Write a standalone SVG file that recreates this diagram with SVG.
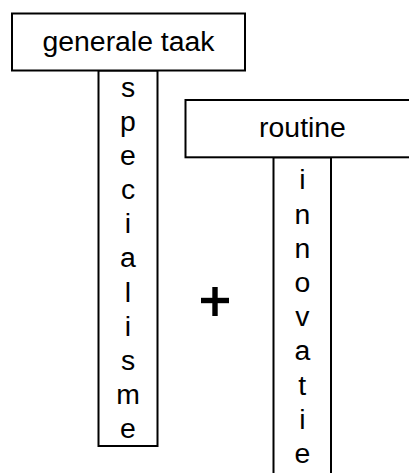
<svg xmlns="http://www.w3.org/2000/svg" width="409" height="473" viewBox="0 0 409 473">
  <style>
    .box { fill: #ffffff; stroke: #000000; stroke-width: 2; }
    .lbl { font-family: "Liberation Sans", Arial, sans-serif; font-size: 28.4px; fill: #000000; text-anchor: middle; }
    .plus { stroke: #000000; stroke-width: 5.4; fill: none; }
  </style>
  <rect x="0" y="0" width="409" height="473" fill="#ffffff"/>

  <!-- first T: generale taak / specialisme -->
  <g id="generale-taak">
    <rect class="box" x="98.5" y="70.5" width="59" height="375.5"/>
    <rect class="box" x="12" y="13.5" width="233" height="57"/>
    <text class="lbl" x="128.5" y="51">generale taak</text>
    <text class="lbl" x="128" y="96.7">
      <tspan x="128">s</tspan><tspan x="128" dy="34.15">p</tspan><tspan x="128" dy="34.15">e</tspan><tspan x="128" dy="34.15">c</tspan><tspan x="128" dy="34.15">i</tspan><tspan x="128" dy="34.15">a</tspan><tspan x="128" dy="34.15">l</tspan><tspan x="128" dy="34.15">i</tspan><tspan x="128" dy="34.15">s</tspan><tspan x="128" dy="34.15">m</tspan><tspan x="128" dy="34.15">e</tspan>
    </text>
  </g>

  <!-- plus sign between the two -->
  <g id="plus">
    <line class="plus" x1="201" y1="300.5" x2="229" y2="300.5"/>
    <line class="plus" x1="215" y1="287" x2="215" y2="316"/>
  </g>

  <!-- second T: routine / innovatie -->
  <g id="routine">
    <rect class="box" x="273.5" y="157.3" width="57.5" height="330"/>
    <rect class="box" x="185.5" y="100" width="234" height="57.3"/>
    <text class="lbl" x="302.5" y="137">routine</text>
    <text class="lbl" x="302.3" y="189.3">
      <tspan x="302.3">i</tspan><tspan x="302.3" dy="34.2">n</tspan><tspan x="302.3" dy="34.2">n</tspan><tspan x="302.3" dy="34.2">o</tspan><tspan x="302.3" dy="34.2">v</tspan><tspan x="302.3" dy="34.2">a</tspan><tspan x="302.3" dy="34.2">t</tspan><tspan x="302.3" dy="34.2">i</tspan><tspan x="302.3" dy="34.2">e</tspan>
    </text>
  </g>

  <g id="connectors"/>
</svg>
